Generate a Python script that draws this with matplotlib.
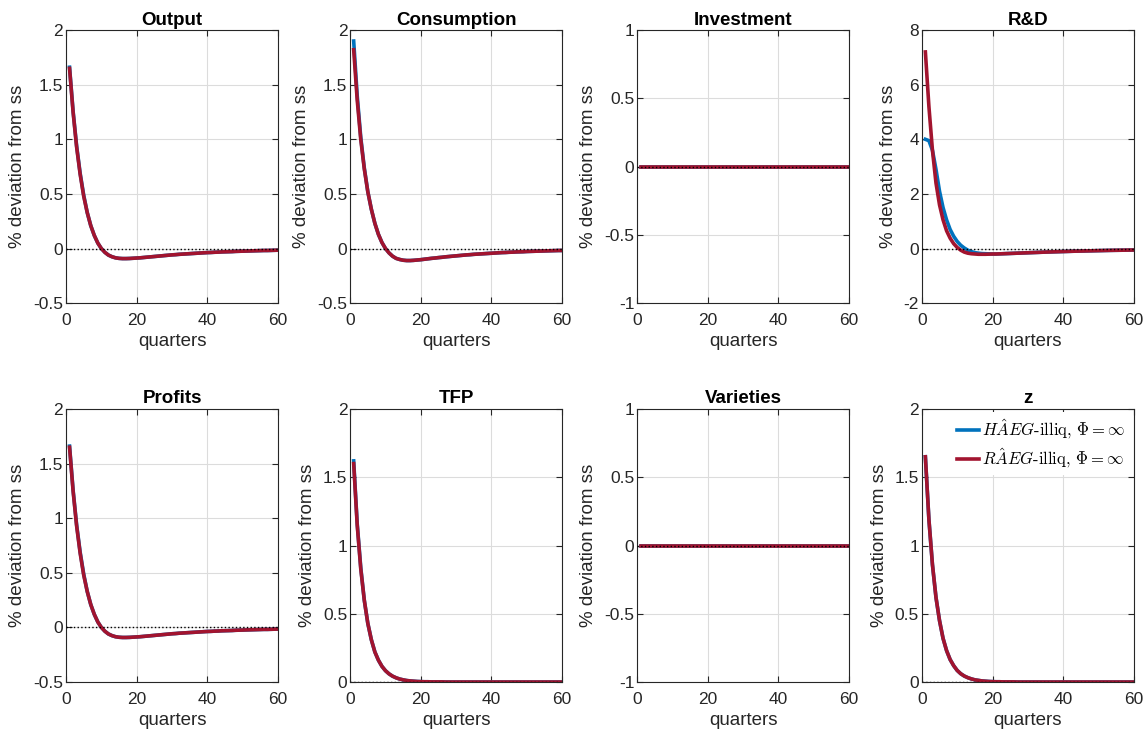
import numpy as np
import matplotlib
matplotlib.use('Agg')
import matplotlib.pyplot as plt
from matplotlib.ticker import FuncFormatter

plt.rcParams['font.family'] = ['Liberation Sans', 'DejaVu Sans']
plt.rcParams['mathtext.fontset'] = 'cm'

quarters = list(range(1, 61))

# impulse responses (% deviation from ss)
output_ra = [1.65, 1.25, 0.93, 0.68, 0.48, 0.33, 0.21, 0.12, 0.05, 0.00,
             -0.035, -0.060, -0.075, -0.085, -0.090, -0.092, -0.092, -0.091, -0.089, -0.087,
             -0.085, -0.082, -0.079, -0.076, -0.073, -0.070, -0.067, -0.064, -0.061, -0.058,
             -0.056, -0.053, -0.051, -0.049, -0.047, -0.045, -0.043, -0.041, -0.039, -0.037,
             -0.036, -0.034, -0.033, -0.031, -0.030, -0.029, -0.028, -0.026, -0.025, -0.024,
             -0.023, -0.022, -0.021, -0.020, -0.019, -0.018, -0.018, -0.017, -0.016, -0.015]
output_ha = [1.66, 1.26, 0.94, 0.69, 0.49, 0.33, 0.21, 0.12, 0.05, 0.00,
             -0.035, -0.060, -0.075, -0.085, -0.090, -0.092, -0.092, -0.091, -0.089, -0.087,
             -0.085, -0.082, -0.079, -0.076, -0.073, -0.070, -0.067, -0.064, -0.061, -0.058,
             -0.056, -0.053, -0.051, -0.049, -0.047, -0.045, -0.043, -0.041, -0.039, -0.037,
             -0.036, -0.034, -0.033, -0.031, -0.030, -0.029, -0.028, -0.026, -0.025, -0.024,
             -0.023, -0.022, -0.021, -0.020, -0.019, -0.018, -0.018, -0.017, -0.016, -0.015]

cons_ra = [1.82, 1.36, 1.00, 0.73, 0.52, 0.36, 0.23, 0.13, 0.055, 0.00,
           -0.040, -0.070, -0.090, -0.100, -0.107, -0.110, -0.110, -0.108, -0.105, -0.102,
           -0.098, -0.094, -0.090, -0.087, -0.083, -0.080, -0.076, -0.073, -0.070, -0.067,
           -0.064, -0.061, -0.058, -0.056, -0.053, -0.051, -0.049, -0.047, -0.045, -0.043,
           -0.041, -0.039, -0.037, -0.036, -0.034, -0.033, -0.031, -0.030, -0.029, -0.027,
           -0.026, -0.025, -0.024, -0.023, -0.022, -0.021, -0.020, -0.019, -0.018, -0.018]
cons_ha = [1.90, 1.40, 1.02, 0.74, 0.52, 0.36, 0.23, 0.13, 0.055, 0.00,
           -0.040, -0.070, -0.090, -0.100, -0.107, -0.110, -0.110, -0.108, -0.105, -0.102,
           -0.098, -0.094, -0.090, -0.087, -0.083, -0.080, -0.076, -0.073, -0.070, -0.067,
           -0.064, -0.061, -0.058, -0.056, -0.053, -0.051, -0.049, -0.047, -0.045, -0.043,
           -0.041, -0.039, -0.037, -0.036, -0.034, -0.033, -0.031, -0.030, -0.029, -0.027,
           -0.026, -0.025, -0.024, -0.023, -0.022, -0.021, -0.020, -0.019, -0.018, -0.018]

invest_ra = [0.0] * 60
invest_ha = [0.0] * 60

rd_ra = [7.20, 5.20, 3.60, 2.40, 1.60, 1.05, 0.65, 0.38, 0.18, 0.04,
         -0.06, -0.13, -0.17, -0.19, -0.20, -0.21, -0.21, -0.21, -0.205, -0.20,
         -0.200, -0.195, -0.190, -0.185, -0.180, -0.175, -0.170, -0.165, -0.160, -0.155,
         -0.150, -0.145, -0.140, -0.135, -0.130, -0.126, -0.122, -0.118, -0.114, -0.110,
         -0.106, -0.102, -0.098, -0.095, -0.092, -0.089, -0.086, -0.083, -0.080, -0.077,
         -0.074, -0.071, -0.068, -0.066, -0.064, -0.062, -0.060, -0.058, -0.056, -0.054]
rd_ha = [4.00, 3.95, 3.60, 2.90, 2.10, 1.50, 1.05, 0.70, 0.45, 0.26,
         0.12, 0.02, -0.06, -0.11, -0.15, -0.17, -0.185, -0.19, -0.195, -0.20,
         -0.200, -0.195, -0.190, -0.185, -0.180, -0.175, -0.170, -0.165, -0.160, -0.155,
         -0.150, -0.145, -0.140, -0.135, -0.130, -0.126, -0.122, -0.118, -0.114, -0.110,
         -0.106, -0.102, -0.098, -0.095, -0.092, -0.089, -0.086, -0.083, -0.080, -0.077,
         -0.074, -0.071, -0.068, -0.066, -0.064, -0.062, -0.060, -0.058, -0.056, -0.054]

profits_ra = output_ra
profits_ha = output_ha

tfp_ra = [1.60, 1.15, 0.83, 0.60, 0.43, 0.31, 0.22, 0.16, 0.115, 0.083,
          0.060, 0.043, 0.031, 0.022, 0.016, 0.011, 0.008, 0.006, 0.004, 0.003,
          0.002, 0.002, 0.001, 0.001, 0.001, 0.001, 0.0, 0.0, 0.0, 0.0,
          0.0, 0.0, 0.0, 0.0, 0.0, 0.0, 0.0, 0.0, 0.0, 0.0,
          0.0, 0.0, 0.0, 0.0, 0.0, 0.0, 0.0, 0.0, 0.0, 0.0,
          0.0, 0.0, 0.0, 0.0, 0.0, 0.0, 0.0, 0.0, 0.0, 0.0]
tfp_ha = [1.62, 1.16, 0.84, 0.60, 0.43, 0.31, 0.22, 0.16, 0.115, 0.083,
          0.060, 0.043, 0.031, 0.022, 0.016, 0.011, 0.008, 0.006, 0.004, 0.003,
          0.002, 0.002, 0.001, 0.001, 0.001, 0.001, 0.0, 0.0, 0.0, 0.0,
          0.0, 0.0, 0.0, 0.0, 0.0, 0.0, 0.0, 0.0, 0.0, 0.0,
          0.0, 0.0, 0.0, 0.0, 0.0, 0.0, 0.0, 0.0, 0.0, 0.0,
          0.0, 0.0, 0.0, 0.0, 0.0, 0.0, 0.0, 0.0, 0.0, 0.0]

var_ra = [0.0] * 60
var_ha = [0.0] * 60

z_ra = [1.65, 1.19, 0.86, 0.62, 0.45, 0.32, 0.23, 0.165, 0.12, 0.085,
        0.061, 0.044, 0.032, 0.023, 0.016, 0.012, 0.008, 0.006, 0.004, 0.003,
        0.002, 0.002, 0.001, 0.001, 0.001, 0.001, 0.0, 0.0, 0.0, 0.0,
        0.0, 0.0, 0.0, 0.0, 0.0, 0.0, 0.0, 0.0, 0.0, 0.0,
        0.0, 0.0, 0.0, 0.0, 0.0, 0.0, 0.0, 0.0, 0.0, 0.0,
        0.0, 0.0, 0.0, 0.0, 0.0, 0.0, 0.0, 0.0, 0.0, 0.0]
z_ha = z_ra

titles = ['Output', 'Consumption', 'Investment', 'R&D',
          'Profits', 'TFP', 'Varieties', 'z']
series_ha = [output_ha, cons_ha, invest_ha, rd_ha, profits_ha, tfp_ha, var_ha, z_ha]
series_ra = [output_ra, cons_ra, invest_ra, rd_ra, profits_ra, tfp_ra, var_ra, z_ra]
ylims = [(-0.5, 2), (-0.5, 2), (-1, 1), (-2, 8), (-0.5, 2), (0, 2), (-1, 1), (0, 2)]
ysteps = [0.5, 0.5, 0.5, 2, 0.5, 0.5, 0.5, 0.5]

blue = '#0072BD'
red = '#A2142F'

fig = plt.figure(figsize=(11.48, 7.34), dpi=100)
lefts = [0.0575, 0.305, 0.555, 0.803]
bottoms = [0.587, 0.0708]
w, h = 0.1847, 0.372

for i in range(8):
    ax = fig.add_axes([lefts[i % 4], bottoms[i // 4], w, h])
    l1, = ax.plot(quarters, series_ha[i], color=blue, lw=2.6,
                  label=r'$H\hat{A}EG$-illiq, $\Phi=\infty$')
    l2, = ax.plot(quarters, series_ra[i], color=red, lw=2.6,
                  label=r'$R\hat{A}EG$-illiq, $\Phi=\infty$')
    ax.axhline(0, color='k', ls=':', lw=1.0, zorder=5)
    ax.set_xlim(0, 60)
    ax.set_xticks([0, 20, 40, 60])
    lo, hi = ylims[i]
    ax.set_ylim(lo, hi)
    ax.set_yticks(np.arange(lo, hi + 1e-9, ysteps[i]))
    ax.yaxis.set_major_formatter(FuncFormatter(lambda v, p: '%g' % round(v, 3)))
    ax.grid(True, color='#dcdcdc', lw=0.8)
    ax.set_axisbelow(True)
    ax.tick_params(direction='in', labelsize=12.5, colors='#262626', length=4,
                   top=True, right=True)
    ax.tick_params(axis='x', pad=7)
    ax.tick_params(axis='y', pad=2)
    for s in ax.spines.values():
        s.set_color('#262626')
        s.set_linewidth(0.8)
    ax.set_title(titles[i], fontsize=13.5, fontweight='bold', pad=4)
    ax.set_xlabel('quarters', fontsize=13.5, color='#262626', labelpad=4)
    ax.set_ylabel('% deviation from ss', fontsize=13.5, color='#262626', labelpad=5)
    if i == 7:
        leg = ax.legend(handles=[l1, l2], loc='upper right',
                        frameon=True, fancybox=False, edgecolor='none',
                        framealpha=1, handlelength=1.3, handletextpad=0.2,
                        borderaxespad=0.2, labelspacing=0.3, borderpad=0.3,
                        prop={'family': 'cmr10', 'size': 12})

fig.savefig('out.png', dpi=100)
